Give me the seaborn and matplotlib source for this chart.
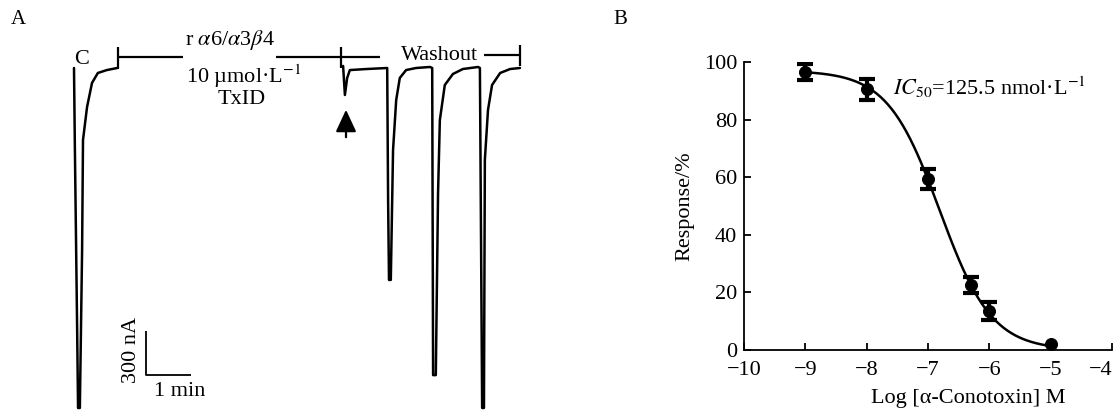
import numpy as np
import pandas as pd
import matplotlib
matplotlib.use("Agg")
import matplotlib.pyplot as plt
from matplotlib.lines import Line2D
import seaborn as sns

# ---------------- data ----------------
# Panel A: current traces (time in min, current in nA)
trace1_t = [0.00, 0.02, 0.07, 0.09, 0.13, 0.18, 0.20, 0.29, 0.40, 0.53, 0.73, 0.96]
trace1_i = [0, -559, -1786, -2318, -2318, -1241, -491, -266, -102, -34, -14, 0]

trace2_t = [5.98, 6.02, 6.07, 6.13, 6.50, 6.96, 6.98, 7.00, 7.04, 7.09, 7.16, 7.24,
            7.38, 7.60, 7.91, 7.96, 7.98, 8.04, 8.09, 8.13, 8.24, 8.42, 8.64, 8.98,
            9.02, 9.07, 9.11, 9.13, 9.20, 9.29, 9.47, 9.69, 9.91]
trace2_i = [14, -184, -68, -14, -7, 0, -900, -1445, -1445, -559, -218, -68,
            -14, 0, 7, 0, -2094, -2094, -853, -355, -116, -41, -7, 7,
            0, -2318, -2318, -627, -286, -116, -34, -7, 0]

# Panel B: concentration-response
log_conc = [-9.0, -8.0, -7.0, -6.3, -6.0, -5.0]
response = [96.5, 90.5, 59.5, 22.5, 13.5, 2.0]
sem = [2.9, 3.6, 3.5, 2.8, 3.1, 0.0]

# fitted Hill curve parameters (as drawn)
fit_top, fit_bottom, fit_logic50, fit_hill = 97.0, 0.0, -6.81, 1.02

x_ticks = [-10, -9, -8, -7, -6, -5, -4]
y_ticks = [0, 20, 40, 60, 80, 100]

# ---------------- style ----------------
sns.set_theme(style="white")
plt.rcParams["font.family"] = ["Liberation Serif", "DejaVu Serif"]
plt.rcParams["mathtext.fontset"] = "stix"
plt.rcParams["axes.unicode_minus"] = True

W, H = 1118, 411
fig = plt.figure(figsize=(W / 100, H / 100), dpi=100)
FS = 16


def P(x, y):
    """pixel (from top-left) -> figure fraction"""
    return (x / W, 1 - y / H)


def fline(xs, ys, lw=1.6):
    fx = [x / W for x in xs]
    fy = [1 - y / H for y in ys]
    fig.add_artist(Line2D(fx, fy, color="black", lw=lw, transform=fig.transFigure,
                          solid_capstyle="butt"))


def ftext(x, y, s, **kw):
    kw.setdefault("fontsize", FS)
    kw.setdefault("ha", "center")
    kw.setdefault("va", "center")
    fig.text(*P(x, y), s, color="black", **kw)


# ---------------- Panel A ----------------
axA = fig.add_axes([0, 0, 560 / W, 1])
px_per_min = 45.0
px_per_nA = 44.0 / 300.0
x0, y0 = 74, 68
axA.set_xlim(-x0 / px_per_min, (560 - x0) / px_per_min)
axA.set_ylim(-(H - y0) / px_per_nA, y0 / px_per_nA)
df1 = pd.DataFrame({"t": trace1_t, "i": trace1_i})
df2 = pd.DataFrame({"t": trace2_t, "i": trace2_i})
sns.lineplot(data=df1, x="t", y="i", sort=False, estimator=None, color="black",
             lw=1.8, ax=axA)
sns.lineplot(data=df2, x="t", y="i", sort=False, estimator=None, color="black",
             lw=1.8, ax=axA)
axA.set_axis_off()

# brackets and labels
fline([118, 118], [47, 69])
fline([118, 183], [57, 57])
fline([276, 380], [57, 57])
fline([341, 341], [47, 68])
fline([484, 520], [55, 55])
fline([520, 520], [45, 66])

ftext(18, 20, "A", fontsize=15)
ftext(82, 59, "C")
ftext(230, 40, r"r $\alpha$6/$\alpha$3$\beta$4")
ftext(244, 76, r"10 µmol·L$^{-1}$")
ftext(242, 99, "TxID")
ftext(440, 55, "Washout")

# arrow
fig.add_artist(matplotlib.patches.FancyArrowPatch(
    P(346, 140), P(346, 107), transform=fig.transFigure,
    arrowstyle="-|>,head_length=0.75,head_width=0.35", mutation_scale=18,
    color="black", lw=1.6))

# scale bar
fline([146, 146, 191], [331, 375, 375], lw=1.3)
ftext(131, 350, "300 nA", rotation=90)
ftext(180, 391, "1 min")

# ---------------- Panel B ----------------
axB = fig.add_axes([744 / W, 1 - 350 / H, 368 / W, 288 / H])
xs = np.linspace(log_conc[0], log_conc[-1], 200)
fit_y = fit_bottom + (fit_top - fit_bottom) / (1 + 10 ** ((xs - fit_logic50) * fit_hill))
sns.lineplot(x=xs, y=fit_y, color="black", lw=1.8, ax=axB)
eb_idx = [k for k, e in enumerate(sem) if e > 0]
axB.errorbar([log_conc[k] for k in eb_idx], [response[k] for k in eb_idx],
             yerr=[sem[k] for k in eb_idx], fmt="none", ecolor="black",
             elinewidth=3, capsize=6, capthick=3)
sns.scatterplot(x=log_conc, y=response, color="black", s=75, edgecolor="black",
                ax=axB, zorder=5)

axB.set_xlim(-10, -4)
axB.set_ylim(0, 100)
axB.set_xticks(x_ticks)
axB.set_yticks(y_ticks)
for s in ["top", "right"]:
    axB.spines[s].set_visible(False)
for s in ["left", "bottom"]:
    axB.spines[s].set_color("black")
    axB.spines[s].set_linewidth(1.3)
axB.spines["left"].set_bounds(0, 100)
axB.spines["bottom"].set_bounds(-10, -4)
axB.tick_params(axis="both", direction="in", length=5, width=1.3, colors="black",
                labelsize=FS, left=True, bottom=True)
axB.tick_params(axis="x", pad=8)
axB.tick_params(axis="y", pad=5)
axB.xaxis.get_major_ticks()[-1].label1.set_horizontalalignment("right")
axB.set_xlabel("Log [α-Conotoxin] M", fontsize=FS, color="black")
axB.set_ylabel("Response/%", fontsize=FS, color="black")
axB.xaxis.set_label_coords(0.609, -0.135)
axB.yaxis.set_label_coords(-0.135, 0.5)
axB.patch.set_alpha(0)

ftext(620, 20, "B", fontsize=15)
fig.text(*P(893, 87), r"$\mathit{IC}_{50}$=125.5 nmol·L$^{-1}$", fontsize=FS,
         ha="left", va="center", color="black")

fig.savefig("out.png", dpi=100)
